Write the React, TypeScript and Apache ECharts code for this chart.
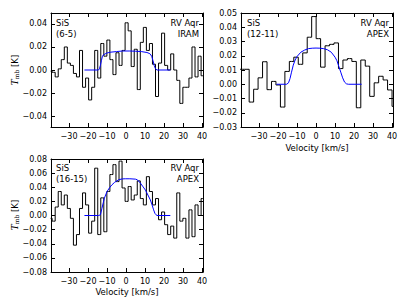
import React, { useEffect, useRef } from "react";
import * as echarts from "echarts";

// Channel velocities (km/s) of the SiS(6-5) and SiS(16-15) spectra
const CHAN_V = [
  -39.7, -38.1, -36.5, -34.9, -33.3, -31.7, -30.1, -28.5, -26.9, -25.3, -23.7, -22.1, -20.5,
  -18.9, -17.3, -15.7, -14.1, -12.5, -10.9, -9.3, -7.7, -6.1, -4.5, -2.9, -1.3, 0.3, 1.9,
  3.5, 5.1, 6.7, 8.3, 9.9, 11.5, 13.1, 14.7, 16.3, 17.9, 19.5, 21.1, 22.7, 24.3, 25.9,
  27.5, 29.1, 30.7, 32.3, 33.9, 35.5, 37.1, 38.7, 40.3, 41.9,
];
// SiS (6-5), RV Aqr, IRAM  (Tmb, K)
const SPEC_65 = [
  -0.001, -0.002, -0.006, 0.001, 0.009, 0.02, 0.006, 0.004, -0.003, -0.006, 0.017, -0.015, -0.007,
  -0.026, -0.015, 0.017, -0.007, 0.023, 0.012, 0.026, 0.009, -0.004, 0.015, 0.004, 0.017, 0.041, 0.034,
  0.003, 0.018, -0.017, 0.024, 0.037, 0.017, 0.023, 0.005, -0.023, 0.006, 0.032, 0.004, 0.0, 0.014, 0.0,
  -0.009, -0.029, -0.015, -0.015, -0.007, 0.02, -0.006, 0.012, -0.005, -0.005,
];
// SiS (16-15), RV Aqr, APEX
const SPEC_1615 = [
  -0.004, -0.008, 0.012, 0.034, 0.015, 0.029, 0.01, -0.004, -0.042, -0.027, 0.01, 0.032, 0.015,
  -0.025, -0.008, 0.067, -0.027, 0.025, -0.023, 0.034, 0.058, 0.072, 0.048, 0.077, 0.039, 0.02, 0.041,
  0.022, 0.029, 0.049, 0.024, 0.015, 0.055, 0.034, 0.015, 0.024, -0.006, 0.005, -0.013, -0.027, -0.015, -0.032,
  0.032, -0.008, -0.004, -0.032, 0.008, -0.03, 0.015, 0.0, 0.024, 0.024,
];
// SiS (12-11), RV Aqr, APEX
const CHAN_V_1211 = [
  -41.08, -38.73, -36.38, -34.03, -31.68, -29.33, -26.98, -24.63, -22.28, -19.93, -17.58, -15.23,
  -12.88, -10.53, -8.18, -5.83, -3.48, -1.13, 1.22, 3.57, 5.92, 8.27, 10.62, 12.97, 15.32, 17.67,
  20.02, 22.37, 24.72, 27.07, 29.42, 31.77, 34.12, 36.47, 38.82, 41.17,
];
const SPEC_1211 = [
  0.0105, 0.0105, 0.0105, -0.0125, -0.0035, 0.0045, 0.0158, -0.0038, 0.002, -0.0005, -0.016, 0.009,
  0.016, 0.019, 0.014, 0.022, 0.033, 0.0475, 0.032, 0.012, 0.027, 0.028, 0.029, 0.011, 0.017, 0.018,
  0.016, -0.0165, 0.017, 0.0127, -0.0085, 0.001, 0.0056, 0.003, -0.004, -0.0155,
];

// Model fits (blue)
const FIT_65_V = [-21.9, -14.5, -14, -13.5, -13, -12.5, -12, -11, -10, -8, -5, -2, 2, 5, 8, 11, 12.5, 13.5, 14.2, 14.8, 15.5, 16.3, 23.3];
const FIT_65_T = [0, 0, 0.001, 0.004, 0.008, 0.0115, 0.013, 0.014, 0.0148, 0.0155, 0.016, 0.0165, 0.0165, 0.0163, 0.016, 0.0152, 0.0142, 0.012, 0.008, 0.004, 0.001, 0, 0];
const FIT_1211_V = [-20.8, -15.5, -14.5, -13.7, -13, -12, -11, -10, -8, -6, -4, -2, 0, 2, 4, 6, 8, 10, 11, 12, 13, 14, 15, 16, 17, 24];
const FIT_1211_T = [0, 0, 0.001, 0.004, 0.008, 0.0134, 0.017, 0.0195, 0.0225, 0.024, 0.025, 0.0253, 0.0254, 0.0253, 0.025, 0.0242, 0.0225, 0.019, 0.0165, 0.0125, 0.0085, 0.0045, 0.0015, 0.0003, 0, 0];
const FIT_1615_V = [-21.9, -14.4, -13.5, -12.7, -12, -11.4, -10, -8.5, -7.4, -6, -3.9, -2, -0.4, 2, 4.9, 6, 7.5, 9, 10.2, 11.5, 12.8, 13.7, 14.5, 15.2, 15.8, 16.3, 23.3];
const FIT_1615_T = [0, 0, 0.001, 0.01, 0.018, 0.0246, 0.034, 0.04, 0.0435, 0.047, 0.0506, 0.0518, 0.052, 0.052, 0.0515, 0.0505, 0.046, 0.0405, 0.036, 0.029, 0.022, 0.015, 0.008, 0.003, 0.001, 0, 0];

// Tick labels
const X_TICKS = [-30, -20, -10, 0, 10, 20, 30, 40];
const Y_TICKS_65 = [-0.04, -0.02, 0, 0.02, 0.04];
const Y_TICKS_1211 = [-0.03, -0.02, -0.01, 0, 0.01, 0.02, 0.03, 0.04, 0.05];
const Y_TICKS_1615 = [-0.08, -0.06, -0.04, -0.02, 0, 0.02, 0.04, 0.06, 0.08];

const zip = (a: number[], b: number[]) => a.map((v, i) => [v, b[i]]);
const fmtX = (v: number) => (v < 0 ? "\u2212" : "") + Math.abs(v);
const fmtY = (v: number) => (Math.abs(v) < 1e-9 ? "0.00" : (v < 0 ? "\u2212" : "") + Math.abs(v).toFixed(2));

const FONT = "DejaVu Sans";

export default function App() {
  const ref = useRef<HTMLDivElement>(null);
  useEffect(() => {
    document.body.style.margin = "0";
    const chart = echarts.init(ref.current!, null, { renderer: "svg" });

    const panels = [
      { grid: { left: 51, top: 13, width: 152, height: 114 }, y: [-0.0495, 0.0495], yt: Y_TICKS_65,
        spec: zip(CHAN_V, SPEC_65), fit: zip(FIT_65_V, FIT_65_T) },
      { grid: { left: 241, top: 13, width: 152, height: 114 }, y: [-0.03, 0.05], yt: Y_TICKS_1211,
        spec: zip(CHAN_V_1211, SPEC_1211), fit: zip(FIT_1211_V, FIT_1211_T) },
      { grid: { left: 51, top: 159, width: 152, height: 113 }, y: [-0.08, 0.08], yt: Y_TICKS_1615,
        spec: zip(CHAN_V, SPEC_1615), fit: zip(FIT_1615_V, FIT_1615_T) },
    ];

    const line = { show: true, onZero: false, lineStyle: { color: "#000", width: 1 } };
    const tick = (vals: number[]) => ({ show: true, inside: true, length: 4, customValues: vals, lineStyle: { color: "#000", width: 1 } });
    const xAxis: any[] = [];
    const yAxis: any[] = [];
    const series: any[] = [];
    panels.forEach((p, i) => {
      xAxis.push({
        type: "value", gridIndex: i, position: "bottom", min: -39.5, max: 40.5,
        axisLine: line, axisTick: tick(X_TICKS), splitLine: { show: false },
        axisLabel: { customValues: X_TICKS, formatter: fmtX, fontSize: 8, fontFamily: FONT, color: "#000", margin: 5 },
      });
      xAxis.push({
        type: "value", gridIndex: i, position: "top", min: -39.5, max: 40.5,
        axisLine: line, axisTick: tick(X_TICKS), splitLine: { show: false }, axisLabel: { show: false },
      });
      yAxis.push({
        type: "value", gridIndex: i, position: "left", min: p.y[0], max: p.y[1],
        axisLine: line, axisTick: tick(p.yt), splitLine: { show: false },
        axisLabel: { customValues: p.yt, formatter: fmtY, fontSize: 8, fontFamily: FONT, color: "#000", margin: 4 },
      });
      yAxis.push({
        type: "value", gridIndex: i, position: "right", min: p.y[0], max: p.y[1],
        axisLine: line, axisTick: tick(p.yt), splitLine: { show: false }, axisLabel: { show: false },
      });
      series.push({
        type: "line", xAxisIndex: 2 * i, yAxisIndex: 2 * i, data: p.spec, step: "middle",
        showSymbol: false, symbol: "none", lineStyle: { color: "#000", width: 1 }, clip: true, z: 2,
      });
      series.push({
        type: "line", xAxisIndex: 2 * i, yAxisIndex: 2 * i, data: p.fit,
        showSymbol: false, symbol: "none", lineStyle: { color: "#0000ff", width: 1 }, clip: true, z: 3,
      });
    });

    const txt = (text: string, x: number, y: number, align: string) => ({
      type: "text", x, y,
      style: { text, fill: "#000", font: `8.5px "${FONT}"`, textAlign: align, textVerticalAlign: "middle" },
    });
    const ylab = (x: number, y: number) => ({
      type: "text", x, y, rotation: Math.PI / 2,
      style: {
        text: "{t|T}{s|mb} [K]", fill: "#000", font: `8.5px "${FONT}"`, textAlign: "center", textVerticalAlign: "middle",
        rich: {
          t: { fontFamily: "DejaVu Serif", fontStyle: "italic", fontSize: 9, fill: "#000" },
          s: { fontFamily: "DejaVu Serif", fontSize: 6, fill: "#000", verticalAlign: "bottom", padding: [3, 0, 0, 0] },
        },
      },
    });

    chart.setOption({
      animation: false,
      backgroundColor: "#fff",
      grid: panels.map((p) => ({ ...p.grid, containLabel: false })),
      xAxis, yAxis, series,
      graphic: [
        txt("SiS", 56, 22.5, "left"), txt("(6-5)", 56, 33.5, "left"),
        txt("RV Aqr", 199, 22.5, "right"), txt("IRAM", 199, 33.5, "right"),
        txt("SiS", 247, 22.5, "left"), txt("(12-11)", 247, 33.5, "left"),
        txt("RV Aqr", 389, 22.5, "right"), txt("APEX", 389, 33.5, "right"),
        txt("SiS", 56, 168, "left"), txt("(16-15)", 56, 179, "left"),
        txt("RV Aqr", 199, 168, "right"), txt("APEX", 199, 179, "right"),
        txt("Velocity [km/s]", 317, 148, "center"), txt("Velocity [km/s]", 127, 292, "center"),
        ylab(15, 70), ylab(15, 215),
      ],
    });
    return () => chart.dispose();
  }, []);
  return <div ref={ref} style={{ width: 407, height: 305 }} />;
}
